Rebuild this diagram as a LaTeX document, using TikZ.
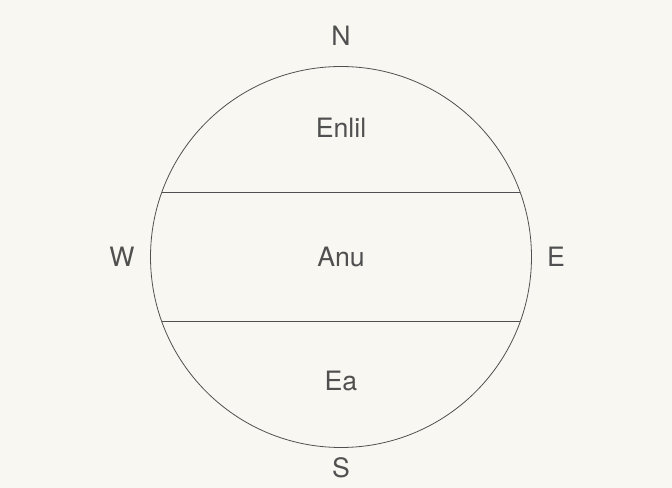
\documentclass[tikz,border=0pt]{standalone}
\usepackage{fontspec}
\setmainfont{TeX Gyre Heros}
\usetikzlibrary{positioning}

\definecolor{paper}{HTML}{F8F7F1}
\definecolor{ink}{HTML}{505050}

\begin{document}
\begin{tikzpicture}[x=0.75pt,y=-0.75pt,
    label/.style={text=ink,font=\fontsize{20}{24}\selectfont,inner sep=0pt}]

    % パラメータの定義
    \pgfmathsetmacro{\cx}{341}
    \pgfmathsetmacro{\cy}{257}
    \pgfmathsetmacro{\r}{190.5}
    \pgfmathsetmacro{\ya}{192}
    \pgfmathsetmacro{\yb}{321}
    \pgfmathsetmacro{\da}{10*sqrt(((\r-(\cy-\ya))/10)*((\r+(\cy-\ya))/10))}
    \pgfmathsetmacro{\db}{10*sqrt(((\r-(\yb-\cy))/10)*((\r+(\yb-\cy))/10))}

    % 背景
    \fill[paper] (0,0) rectangle (672,488);
    \useasboundingbox (0,0) rectangle (672,488);

    \coordinate (O) at (\cx,\cy);
    \coordinate (A1) at (\cx-\da,\ya);
    \coordinate (A2) at (\cx+\da,\ya);
    \coordinate (B1) at (\cx-\db,\yb);
    \coordinate (B2) at (\cx+\db,\yb);

    % 円を描画
    \draw[ink,semithick] (O) circle [radius=\r];

    % 直線の描画
    \draw[ink,semithick] (A1) -- (A2);
    \draw[ink,semithick] (B1) -- (B2);

    % 文字の描画
    \node[label] (N) at (341,36) {N};
    \node[label] (S) at (341,468) {S};
    \node[label] (W) at (122,257) {W};
    \node[label] (E) at (556,257) {E};
    \node[label] (enlil) at (341,128) {Enlil};
    \node[label] (anu) at (341,257) {Anu};
    \node[label] (ea) at (341,381) {Ea};

\end{tikzpicture}
\end{document}
